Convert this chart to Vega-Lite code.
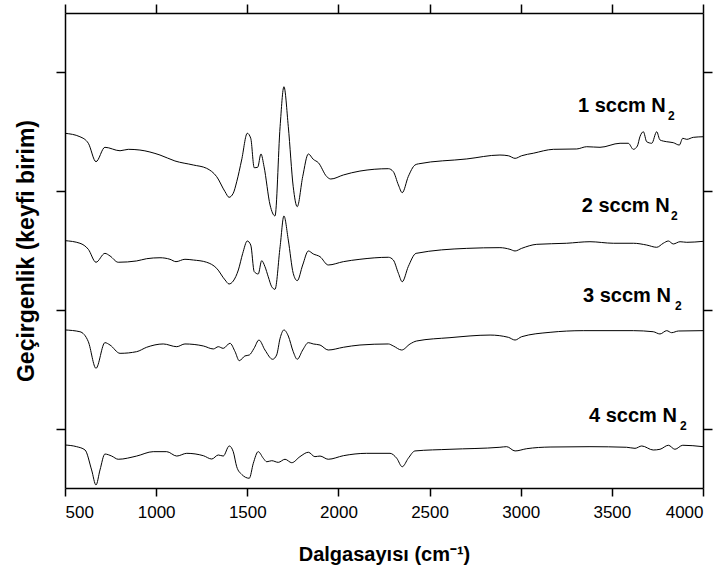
{
  "$schema": "https://vega.github.io/schema/vega-lite/v6.json",
  "autosize": {"type": "none"},
  "padding": {"left": 65, "top": 13, "right": 22, "bottom": 86},
  "width": 638,
  "height": 475,
  "background": "white",
  "config": {
    "view": {"stroke": null},
    "axis": {
      "domainColor": "black", "domainWidth": 1.5, "tickColor": "black", "tickWidth": 1.5,
      "grid": false, "labelColor": "black", "titleColor": "black",
      "labelFont": "Liberation Sans", "titleFont": "Liberation Sans"
    }
  },
  "datasets": {
    "spec": [
      {"s":1,"wn":500,"t":3.487},{"s":1,"wn":582,"t":3.458},{"s":1,"wn":628,"t":3.403},{"s":1,"wn":670,"t":3.248},{"s":1,"wn":719,"t":3.369},{"s":1,"wn":802,"t":3.340},{"s":1,"wn":847,"t":3.352},{"s":1,"wn":911,"t":3.346},{"s":1,"wn":1021,"t":3.304},{"s":1,"wn":1103,"t":3.254},{"s":1,"wn":1204,"t":3.220},{"s":1,"wn":1277,"t":3.192},{"s":1,"wn":1332,"t":3.122},{"s":1,"wn":1378,"t":2.995},{"s":1,"wn":1400,"t":2.948},{"s":1,"wn":1423,"t":2.982},{"s":1,"wn":1442,"t":3.079},{"s":1,"wn":1469,"t":3.262},{"s":1,"wn":1500,"t":3.487},{"s":1,"wn":1519,"t":3.445},{"s":1,"wn":1538,"t":3.197},{"s":1,"wn":1557,"t":3.201},{"s":1,"wn":1575,"t":3.313},{"s":1,"wn":1592,"t":3.206},{"s":1,"wn":1625,"t":2.883},{"s":1,"wn":1652,"t":2.791},{"s":1,"wn":1680,"t":3.543},{"s":1,"wn":1701,"t":3.879},{"s":1,"wn":1725,"t":3.543},{"s":1,"wn":1752,"t":3.037},{"s":1,"wn":1774,"t":2.869},{"s":1,"wn":1804,"t":3.122},{"s":1,"wn":1835,"t":3.313},{"s":1,"wn":1862,"t":3.268},{"s":1,"wn":1890,"t":3.239},{"s":1,"wn":1936,"t":3.122},{"s":1,"wn":1958,"t":3.102},{"s":1,"wn":2027,"t":3.136},{"s":1,"wn":2118,"t":3.169},{"s":1,"wn":2274,"t":3.189},{"s":1,"wn":2301,"t":3.164},{"s":1,"wn":2329,"t":3.052},{"s":1,"wn":2350,"t":2.987},{"s":1,"wn":2383,"t":3.122},{"s":1,"wn":2420,"t":3.220},{"s":1,"wn":2440,"t":3.230},{"s":1,"wn":2704,"t":3.271},{"s":1,"wn":2886,"t":3.304},{"s":1,"wn":2932,"t":3.298},{"s":1,"wn":2969,"t":3.276},{"s":1,"wn":3005,"t":3.298},{"s":1,"wn":3069,"t":3.319},{"s":1,"wn":3179,"t":3.352},{"s":1,"wn":3307,"t":3.355},{"s":1,"wn":3362,"t":3.374},{"s":1,"wn":3435,"t":3.369},{"s":1,"wn":3545,"t":3.403},{"s":1,"wn":3590,"t":3.403},{"s":1,"wn":3618,"t":3.352},{"s":1,"wn":3640,"t":3.380},{"s":1,"wn":3654,"t":3.458},{"s":1,"wn":3673,"t":3.500},{"s":1,"wn":3691,"t":3.416},{"s":1,"wn":3719,"t":3.403},{"s":1,"wn":3746,"t":3.500},{"s":1,"wn":3764,"t":3.431},{"s":1,"wn":3801,"t":3.416},{"s":1,"wn":3837,"t":3.408},{"s":1,"wn":3870,"t":3.388},{"s":1,"wn":3889,"t":3.445},{"s":1,"wn":3911,"t":3.436},{"s":1,"wn":3947,"t":3.453},{"s":1,"wn":4000,"t":3.458},

      {"s":2,"wn":500,"t":2.583},{"s":2,"wn":582,"t":2.561},{"s":2,"wn":628,"t":2.510},{"s":2,"wn":670,"t":2.401},{"s":2,"wn":719,"t":2.476},{"s":2,"wn":747,"t":2.454},{"s":2,"wn":792,"t":2.401},{"s":2,"wn":893,"t":2.412},{"s":2,"wn":948,"t":2.431},{"s":2,"wn":1021,"t":2.439},{"s":2,"wn":1076,"t":2.426},{"s":2,"wn":1109,"t":2.406},{"s":2,"wn":1158,"t":2.426},{"s":2,"wn":1204,"t":2.420},{"s":2,"wn":1277,"t":2.401},{"s":2,"wn":1332,"t":2.350},{"s":2,"wn":1378,"t":2.252},{"s":2,"wn":1400,"t":2.218},{"s":2,"wn":1423,"t":2.243},{"s":2,"wn":1451,"t":2.336},{"s":2,"wn":1475,"t":2.476},{"s":2,"wn":1500,"t":2.580},{"s":2,"wn":1519,"t":2.546},{"s":2,"wn":1538,"t":2.322},{"s":2,"wn":1560,"t":2.302},{"s":2,"wn":1579,"t":2.414},{"s":2,"wn":1597,"t":2.364},{"s":2,"wn":1615,"t":2.279},{"s":2,"wn":1634,"t":2.195},{"s":2,"wn":1652,"t":2.173},{"s":2,"wn":1680,"t":2.532},{"s":2,"wn":1701,"t":2.791},{"s":2,"wn":1725,"t":2.588},{"s":2,"wn":1752,"t":2.308},{"s":2,"wn":1774,"t":2.246},{"s":2,"wn":1804,"t":2.378},{"s":2,"wn":1835,"t":2.496},{"s":2,"wn":1862,"t":2.471},{"s":2,"wn":1899,"t":2.448},{"s":2,"wn":1944,"t":2.378},{"s":2,"wn":2027,"t":2.406},{"s":2,"wn":2118,"t":2.426},{"s":2,"wn":2274,"t":2.443},{"s":2,"wn":2301,"t":2.420},{"s":2,"wn":2329,"t":2.308},{"s":2,"wn":2350,"t":2.237},{"s":2,"wn":2383,"t":2.364},{"s":2,"wn":2426,"t":2.476},{"s":2,"wn":2704,"t":2.518},{"s":2,"wn":2886,"t":2.524},{"s":2,"wn":2941,"t":2.510},{"s":2,"wn":2969,"t":2.496},{"s":2,"wn":3005,"t":2.518},{"s":2,"wn":3088,"t":2.552},{"s":2,"wn":3252,"t":2.561},{"s":2,"wn":3380,"t":2.574},{"s":2,"wn":3508,"t":2.561},{"s":2,"wn":3618,"t":2.561},{"s":2,"wn":3691,"t":2.546},{"s":2,"wn":3746,"t":2.527},{"s":2,"wn":3782,"t":2.561},{"s":2,"wn":3810,"t":2.580},{"s":2,"wn":3837,"t":2.555},{"s":2,"wn":3874,"t":2.574},{"s":2,"wn":3911,"t":2.569},{"s":2,"wn":4000,"t":2.577},

      {"s":3,"wn":500,"t":1.831},{"s":3,"wn":582,"t":1.816},{"s":3,"wn":628,"t":1.732},{"s":3,"wn":670,"t":1.508},{"s":3,"wn":719,"t":1.724},{"s":3,"wn":747,"t":1.704},{"s":3,"wn":802,"t":1.634},{"s":3,"wn":893,"t":1.648},{"s":3,"wn":948,"t":1.685},{"s":3,"wn":1039,"t":1.713},{"s":3,"wn":1113,"t":1.690},{"s":3,"wn":1158,"t":1.713},{"s":3,"wn":1259,"t":1.696},{"s":3,"wn":1314,"t":1.671},{"s":3,"wn":1341,"t":1.690},{"s":3,"wn":1368,"t":1.676},{"s":3,"wn":1405,"t":1.719},{"s":3,"wn":1433,"t":1.648},{"s":3,"wn":1456,"t":1.572},{"s":3,"wn":1487,"t":1.612},{"s":3,"wn":1511,"t":1.620},{"s":3,"wn":1537,"t":1.676},{"s":3,"wn":1564,"t":1.746},{"s":3,"wn":1597,"t":1.662},{"s":3,"wn":1639,"t":1.584},{"s":3,"wn":1661,"t":1.620},{"s":3,"wn":1680,"t":1.761},{"s":3,"wn":1701,"t":1.831},{"s":3,"wn":1725,"t":1.780},{"s":3,"wn":1752,"t":1.648},{"s":3,"wn":1774,"t":1.584},{"s":3,"wn":1804,"t":1.662},{"s":3,"wn":1835,"t":1.724},{"s":3,"wn":1862,"t":1.713},{"s":3,"wn":1899,"t":1.704},{"s":3,"wn":1944,"t":1.662},{"s":3,"wn":2027,"t":1.685},{"s":3,"wn":2118,"t":1.704},{"s":3,"wn":2274,"t":1.713},{"s":3,"wn":2301,"t":1.696},{"s":3,"wn":2347,"t":1.662},{"s":3,"wn":2393,"t":1.713},{"s":3,"wn":2429,"t":1.738},{"s":3,"wn":2612,"t":1.766},{"s":3,"wn":2832,"t":1.788},{"s":3,"wn":2932,"t":1.769},{"s":3,"wn":2969,"t":1.746},{"s":3,"wn":3005,"t":1.774},{"s":3,"wn":3161,"t":1.811},{"s":3,"wn":3343,"t":1.825},{"s":3,"wn":3618,"t":1.825},{"s":3,"wn":3727,"t":1.816},{"s":3,"wn":3764,"t":1.797},{"s":3,"wn":3801,"t":1.825},{"s":3,"wn":3828,"t":1.808},{"s":3,"wn":3865,"t":1.822},{"s":3,"wn":4000,"t":1.825},

      {"s":4,"wn":500,"t":0.862},{"s":4,"wn":564,"t":0.848},{"s":4,"wn":610,"t":0.820},{"s":4,"wn":646,"t":0.652},{"s":4,"wn":670,"t":0.525},{"s":4,"wn":692,"t":0.652},{"s":4,"wn":719,"t":0.786},{"s":4,"wn":756,"t":0.769},{"s":4,"wn":792,"t":0.742},{"s":4,"wn":893,"t":0.769},{"s":4,"wn":984,"t":0.806},{"s":4,"wn":1058,"t":0.806},{"s":4,"wn":1113,"t":0.769},{"s":4,"wn":1168,"t":0.792},{"s":4,"wn":1259,"t":0.772},{"s":4,"wn":1305,"t":0.744},{"s":4,"wn":1341,"t":0.778},{"s":4,"wn":1368,"t":0.769},{"s":4,"wn":1401,"t":0.854},{"s":4,"wn":1423,"t":0.806},{"s":4,"wn":1442,"t":0.679},{"s":4,"wn":1469,"t":0.615},{"s":4,"wn":1511,"t":0.582},{"s":4,"wn":1533,"t":0.708},{"s":4,"wn":1560,"t":0.806},{"s":4,"wn":1588,"t":0.750},{"s":4,"wn":1607,"t":0.721},{"s":4,"wn":1634,"t":0.730},{"s":4,"wn":1670,"t":0.716},{"s":4,"wn":1707,"t":0.742},{"s":4,"wn":1744,"t":0.713},{"s":4,"wn":1789,"t":0.764},{"s":4,"wn":1835,"t":0.801},{"s":4,"wn":1871,"t":0.764},{"s":4,"wn":1899,"t":0.769},{"s":4,"wn":1944,"t":0.742},{"s":4,"wn":2027,"t":0.772},{"s":4,"wn":2155,"t":0.792},{"s":4,"wn":2283,"t":0.792},{"s":4,"wn":2320,"t":0.750},{"s":4,"wn":2350,"t":0.679},{"s":4,"wn":2383,"t":0.750},{"s":4,"wn":2420,"t":0.812},{"s":4,"wn":2612,"t":0.826},{"s":4,"wn":2886,"t":0.843},{"s":4,"wn":2923,"t":0.848},{"s":4,"wn":2969,"t":0.812},{"s":4,"wn":3033,"t":0.831},{"s":4,"wn":3161,"t":0.845},{"s":4,"wn":3380,"t":0.848},{"s":4,"wn":3581,"t":0.843},{"s":4,"wn":3627,"t":0.834},{"s":4,"wn":3664,"t":0.854},{"s":4,"wn":3727,"t":0.820},{"s":4,"wn":3764,"t":0.826},{"s":4,"wn":3810,"t":0.860},{"s":4,"wn":3846,"t":0.826},{"s":4,"wn":3889,"t":0.860},{"s":4,"wn":4000,"t":0.848}
    ],
    "labels": [
      {"lab": "1 sccm N", "x": 3314, "y": 3.664, "sx": 3808, "sy": 3.599},
      {"lab": "2 sccm N", "x": 3335, "y": 2.827, "sx": 3824, "sy": 2.761},
      {"lab": "3 sccm N", "x": 3342, "y": 2.069, "sx": 3846, "sy": 1.999},
      {"lab": "4 sccm N", "x": 3375, "y": 1.058, "sx": 3874, "sy": 0.988}
    ]
  },
  "layer": [
    {
      "data": {"name": "spec"},
      "mark": {"type": "line", "color": "black", "strokeWidth": 1, "interpolate": "monotone"},
      "encoding": {
        "x": {"field": "wn", "type": "quantitative",
              "scale": {"domain": [500, 4000], "nice": false, "zero": false},
              "axis": {"orient": "bottom", "values": [500,1000,1500,2000,2500,3000,3500,4000], "format": "d",
                       "tickSize": 8, "labelFontSize": 17, "labelPadding": 8,
                       "title": "Dalgasayısı (cm⁻¹)", "titleFontSize": 20, "titleFontWeight": "bold", "titlePadding": 24}},
        "y": {"field": "t", "type": "quantitative",
              "scale": {"domain": [0.5, 4.5], "nice": false, "zero": false},
              "axis": {"orient": "left", "values": [1,2,3,4], "labels": false, "tickSize": 9,
                       "title": "Geçirgenlik (keyfi birim)", "titleFontSize": 23, "titleFontWeight": "bold", "titlePadding": 17}},
        "detail": {"field": "s", "type": "nominal"}
      }
    },
    {
      "data": {"name": "labels"},
      "mark": {"type": "text", "align": "left", "baseline": "alphabetic", "font": "Liberation Sans", "fontSize": 20, "fontWeight": "bold", "color": "black"},
      "encoding": {
        "x": {"field": "x", "type": "quantitative",
              "axis": {"orient": "top", "values": [500,1000,1500,2000,2500,3000,3500,4000], "labels": false, "tickSize": 9, "title": null}},
        "y": {"field": "y", "type": "quantitative",
              "axis": {"orient": "right", "values": [1,2,3,4], "labels": false, "tickSize": 9, "title": null}},
        "text": {"field": "lab"}
      }
    },
    {
      "data": {"name": "labels"},
      "mark": {"type": "text", "align": "left", "baseline": "alphabetic", "font": "Liberation Sans", "fontSize": 12, "fontWeight": "bold", "color": "black"},
      "encoding": {
        "x": {"field": "sx", "type": "quantitative", "axis": null},
        "y": {"field": "sy", "type": "quantitative", "axis": null},
        "text": {"value": "2"}
      }
    }
  ],
  "resolve": {"axis": {"x": "independent", "y": "independent"}}
}
